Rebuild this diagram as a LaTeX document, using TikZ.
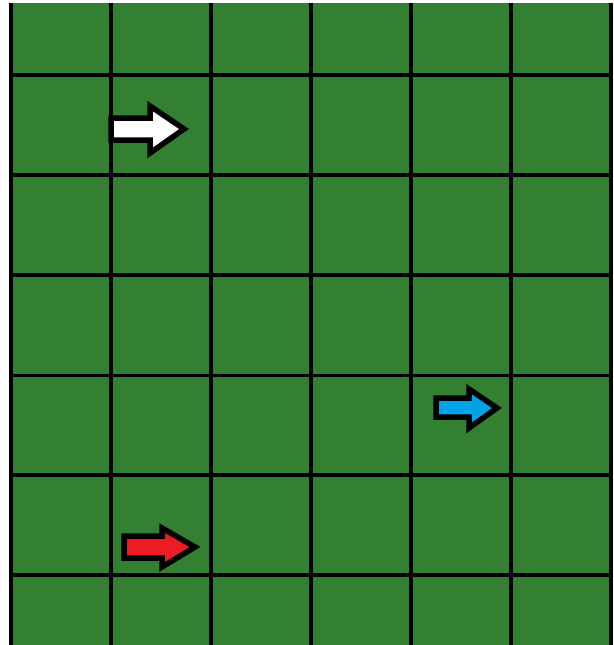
\documentclass[tikz,border=0pt]{standalone}
\definecolor{field}{RGB}{51,128,51}
\definecolor{arrred}{RGB}{237,28,36}
\definecolor{arrblue}{RGB}{0,162,232}
\tikzset{
  gridline/.style={black,line width=4pt},
  thinline/.style={black,line width=3pt},
  bigarrow/.style={draw=black,line width=5.5pt,line join=miter}
}
\begin{document}
\begin{tikzpicture}[x=1pt,y=-1pt]
\useasboundingbox (0,0) rectangle (613,645);
\fill[white] (0,0) rectangle (613,645);
\fill[field] (11,3) rectangle (613,645);
% horizontal lines
\foreach \y in {75,175,275,475,575}{\draw[gridline] (11,\y) -- (613,\y);}
\draw[thinline] (11,375) -- (613,375);
% vertical lines
\foreach \x in {11,111,211,311,411,511,611}{\draw[gridline] (\x,3) -- (\x,645);}
% white arrow
\draw[bigarrow,fill=white] (111,118) -- (150,118) -- (150,106) -- (184,129) -- (150,153) -- (150,140) -- (111,140) -- cycle;
% blue arrow
\draw[bigarrow,fill=arrblue] (436,398) -- (469,398) -- (469,389) -- (497,408) -- (469,428) -- (469,417) -- (436,417) -- cycle;
% red arrow
\draw[bigarrow,fill=arrred] (124,536) -- (162,536) -- (162,528) -- (195,547) -- (162,567) -- (162,558) -- (124,558) -- cycle;
\end{tikzpicture}
\end{document}
